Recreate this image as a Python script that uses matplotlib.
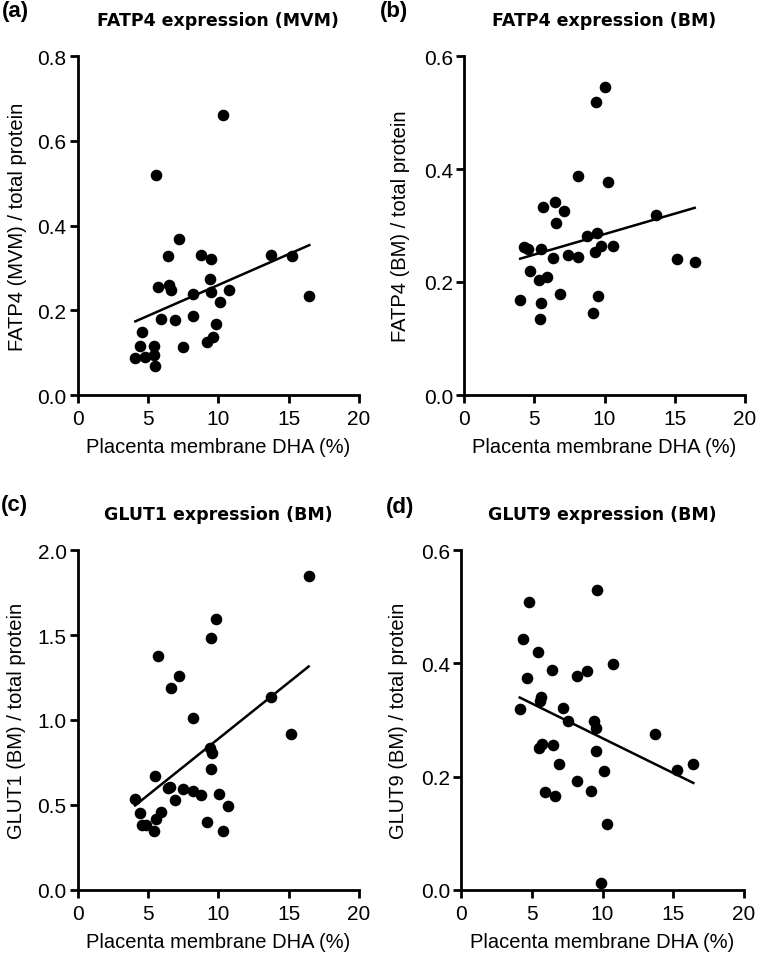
import numpy as np
import matplotlib
matplotlib.use('Agg')
from matplotlib import pyplot as plt

plt.rcParams['font.family'] = ['Liberation Sans', 'DejaVu Sans']

# (a) FATP4 expression (MVM)
dha_a = [4.10, 4.43, 4.60, 4.81, 5.40, 5.45, 5.50, 5.59, 5.69, 5.92, 6.45, 6.52, 6.66, 6.90, 7.20, 7.49,
         8.20, 8.22, 8.79, 9.22, 9.43, 9.50, 9.50, 9.64, 9.83, 10.12, 10.33, 10.73, 13.77, 15.26, 16.47]
fatp4_mvm = [0.087, 0.116, 0.148, 0.089, 0.115, 0.094, 0.069, 0.519, 0.255, 0.179, 0.327, 0.259, 0.247, 0.176,
             0.369, 0.113, 0.186, 0.238, 0.330, 0.126, 0.273, 0.322, 0.242, 0.137, 0.167, 0.219, 0.660, 0.247,
             0.330, 0.327, 0.234]

# (b) FATP4 expression (BM)
dha_b = [4.00, 4.27, 4.53, 4.69, 5.33, 5.45, 5.43, 5.50, 5.59, 5.88, 6.33, 6.45, 6.56, 6.82, 7.13, 7.42,
         8.13, 8.10, 8.72, 9.15, 9.43, 9.45, 9.34, 9.53, 9.76, 10.07, 10.24, 10.62, 13.65, 15.19, 16.42]
fatp4_bm = [0.169, 0.262, 0.259, 0.219, 0.203, 0.163, 0.134, 0.258, 0.332, 0.209, 0.242, 0.341, 0.304, 0.178,
            0.326, 0.248, 0.245, 0.388, 0.282, 0.146, 0.519, 0.286, 0.253, 0.175, 0.264, 0.546, 0.377, 0.263,
            0.319, 0.241, 0.235]

# (c) GLUT1 expression (BM)
dha_c = [4.08, 4.43, 4.55, 4.83, 5.40, 5.52, 5.57, 5.71, 5.94, 6.39, 6.56, 6.60, 6.89, 7.22, 7.48, 8.18,
         8.21, 8.80, 9.20, 9.41, 9.58, 9.48, 9.48, 9.81, 10.07, 10.31, 10.71, 13.73, 15.19, 16.42]
glut1_bm = [0.534, 0.454, 0.383, 0.381, 0.344, 0.668, 0.418, 1.377, 0.456, 0.599, 0.607, 1.191, 0.528, 1.259,
            0.595, 1.012, 0.582, 0.558, 0.401, 0.833, 0.804, 1.483, 0.709, 1.593, 0.564, 0.348, 0.491, 1.138,
            0.917, 1.851]

# (d) GLUT9 expression (BM)
dha_d = [4.15, 4.41, 4.67, 4.83, 5.45, 5.50, 5.57, 5.64, 5.73, 5.94, 6.42, 6.53, 6.67, 6.93, 7.22, 7.55,
         8.21, 8.21, 8.87, 9.22, 9.43, 9.53, 9.53, 9.62, 9.86, 10.09, 10.31, 10.73, 13.70, 15.24, 16.42]
glut9_bm = [0.319, 0.444, 0.375, 0.509, 0.421, 0.250, 0.333, 0.341, 0.258, 0.173, 0.388, 0.256, 0.165, 0.223,
            0.322, 0.299, 0.378, 0.192, 0.386, 0.174, 0.299, 0.285, 0.246, 0.529, 0.011, 0.210, 0.117, 0.399,
            0.276, 0.212, 0.222]

panels = [
    ('(a)', 'FATP4 expression (MVM)', 'FATP4 (MVM) / total protein', dha_a, fatp4_mvm, 0.8, [0.0, 0.2, 0.4, 0.6, 0.8]),
    ('(b)', 'FATP4 expression (BM)', 'FATP4 (BM) / total protein', dha_b, fatp4_bm, 0.6, [0.0, 0.2, 0.4, 0.6]),
    ('(c)', 'GLUT1 expression (BM)', 'GLUT1 (BM) / total protein', dha_c, glut1_bm, 2.0, [0.0, 0.5, 1.0, 1.5, 2.0]),
    ('(d)', 'GLUT9 expression (BM)', 'GLUT9 (BM) / total protein', dha_d, glut9_bm, 0.6, [0.0, 0.2, 0.4, 0.6]),
]

W, H = 757, 954
fig = plt.figure(figsize=(W / 100, H / 100), dpi=100)

# axes boxes in pixels: left, right, top, bottom
boxes = [(77.7, 359, 57, 396), (464, 745, 57, 396), (77.7, 359, 551.3, 890.7), (461, 744, 551.3, 890.7)]
letter_pos = [(15, 12), (394, 12), (14, 506), (400, 508)]
ylab_x = [18, 400, 17, 398]

for (letter, title, ylab, x, y, ymax, yticks), (l, r, t, b), lp, yx in zip(panels, boxes, letter_pos, ylab_x):
    ax = fig.add_axes([l / W, 1 - b / H, (r - l) / W, (b - t) / H])
    ax.scatter(x, y, s=70, color='black', zorder=3, clip_on=False, linewidths=0)
    slope, intercept = np.polyfit(x, y, 1)
    xs = np.array([min(x), max(x)])
    ax.plot(xs, slope * xs + intercept, color='black', linewidth=1.8)
    ax.set_xlim(0, 20)
    ax.set_ylim(0, ymax)
    ax.set_xticks([0, 5, 10, 15, 20])
    ax.set_yticks(yticks)
    ax.set_yticklabels(['%.1f' % v for v in yticks])
    for side in ['top', 'right']:
        ax.spines[side].set_visible(False)
    for side in ['left', 'bottom']:
        ax.spines[side].set_linewidth(2.0)
    ax.tick_params(width=2.0, length=6, labelsize=15, direction='out')
    ax.tick_params(axis='y', pad=2)
    ax.tick_params(axis='x', pad=4)
    ax.set_xlabel('Placenta membrane DHA (%)', fontsize=14.5, va='center')
    ax.xaxis.set_label_coords(0.5, -0.153)
    ax.set_ylabel(ylab, fontsize=14.5, va='center')
    ax.yaxis.set_label_coords((yx - l) / (r - l), 0.5)
    ax.set_title(title, fontsize=12.5, fontweight='bold', family='DejaVu Sans',
                 y=(b - (t - 36)) / (b - t), va='center', pad=0)
    fig.text(lp[0] / W, 1 - lp[1] / H, letter, fontsize=16, fontweight='bold', ha='center', va='center')

plt.savefig('out.png', dpi=100)
